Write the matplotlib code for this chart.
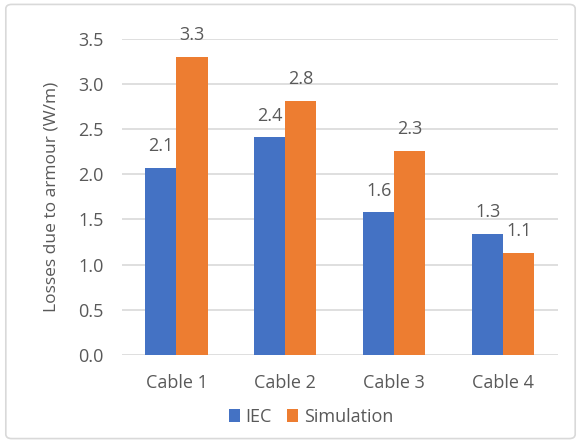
import matplotlib.pyplot as plt
import numpy as np
from matplotlib.patches import FancyBboxPatch

categories = ["Cable 1", "Cable 2", "Cable 3", "Cable 4"]
iec = [2.07, 2.41, 1.58, 1.34]
simulation = [3.30, 2.81, 2.26, 1.13]

plt.rcParams['font.family'] = ['Open Sans', 'DejaVu Sans']
grey = '#595959'

fig = plt.figure(figsize=(5.81, 4.43), dpi=100)
ax = fig.add_axes([0.21, 0.1986, 0.75, 0.7144])

x = np.arange(len(categories))
w = 0.285
b1 = ax.bar(x - w / 2, iec, w, color='#4472C4', label='IEC', zorder=3)
b2 = ax.bar(x + w / 2, simulation, w, color='#ED7D31', label='Simulation', zorder=3)

for bars, vals in ((b1, iec), (b2, simulation)):
    for bar, v in zip(bars, vals):
        ax.annotate(f"{v:.1f}", (bar.get_x() + bar.get_width() / 2, v),
                    xytext=(0, 9), textcoords='offset points',
                    ha='center', va='bottom', fontsize=13, color=grey,
                    annotation_clip=False)

ax.set_xlim(-0.5, 3.5)
ax.set_ylim(0, 3.5)
ax.set_yticks(np.arange(0, 3.51, 0.5))
ax.yaxis.set_major_formatter(plt.FormatStrFormatter('%.1f'))
ax.set_xticks(x)
ax.set_xticklabels(categories)
ax.tick_params(length=0, labelsize=13, colors=grey)
ax.tick_params(axis='y', pad=13)
ax.tick_params(axis='x', pad=14)
ax.grid(axis='y', color='#D9D9D9', linewidth=1.2, zorder=0)
for s in ax.spines.values():
    s.set_visible(False)
ax.set_ylabel("Losses due to armour (W/m)", fontsize=12.5, color=grey, labelpad=14)

fig.legend(handles=[b1, b2], loc='center', bbox_to_anchor=(0.535, 0.059), ncol=2,
           frameon=False, fontsize=13, handlelength=0.65, handleheight=0.65,
           handletextpad=0.3, columnspacing=0.8, labelcolor=grey)

fig.patches.append(FancyBboxPatch((0.01, 0.01), 0.98, 0.98, boxstyle='round,pad=0,rounding_size=0.01',
                                  transform=fig.transFigure, fill=False,
                                  edgecolor='#D9D9D9', linewidth=1.2))

fig.savefig("out.png", dpi=100)
